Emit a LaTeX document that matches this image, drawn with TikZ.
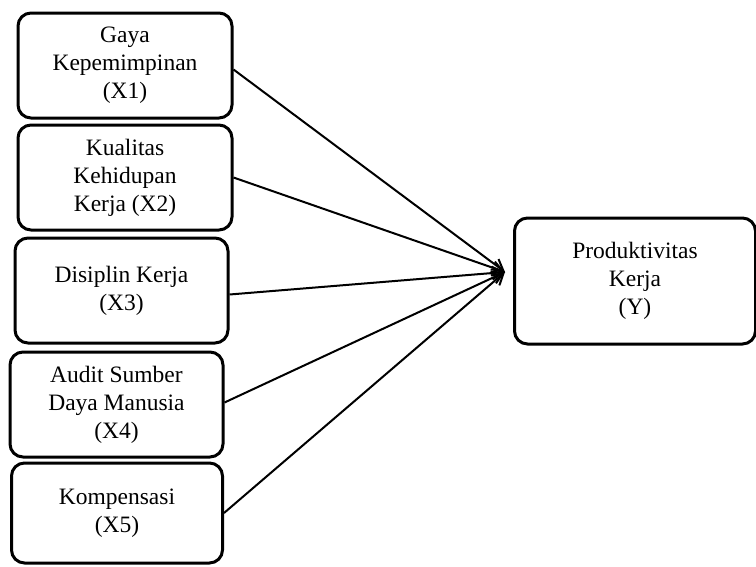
\documentclass[tikz,border=0pt]{standalone}
\usepackage{fontspec}
\setmainfont{Liberation Serif}
\usetikzlibrary{arrows.meta}
\begin{document}
\begin{tikzpicture}[x=1pt,y=-1pt,
  varbox/.style={draw=black, line width=3pt, rounded corners=13pt, fill=white,
    align=center, inner sep=0pt, font=\fontsize{23.5}{28}\selectfont},
  link/.style={line width=2pt, -{Straight Barb[length=11pt,width=13pt,line width=2pt]}}]
\useasboundingbox (0,0) rectangle (756,566);
\node[varbox, minimum width=214pt, minimum height=105pt] (x1) at (125,65.5) {Gaya\\Kepemimpinan\\(X1)};
\node[varbox, minimum width=214pt, minimum height=105pt] (x2) at (125,177.5) {Kualitas\\Kehidupan\\Kerja (X2)};
\node[varbox, minimum width=213pt, minimum height=105pt] (x3) at (121.5,290.5) {Disiplin Kerja\\(X3)};
\node[varbox, minimum width=213pt, minimum height=105pt] (x4) at (116.5,404.5) {Audit Sumber\\Daya Manusia\\(X4)};
\node[varbox, minimum width=211pt, minimum height=100pt] (x5) at (117,513) {Kompensasi\\(X5)};
\node[varbox, minimum width=241pt, minimum height=126pt] (y) at (635,281) {Produktivitas\\Kerja\\(Y)};
\coordinate (tip) at (505,272);
\draw[link] ([yshift=-4pt]x1.east) -- (tip);
\draw[link] (x2.east) -- (tip);
\draw[link] ([yshift=-4pt]x3.east) -- (tip);
\draw[link] ([yshift=2pt]x4.east) -- (tip);
\draw[link] (x5.east) -- (tip);
\end{tikzpicture}
\end{document}
